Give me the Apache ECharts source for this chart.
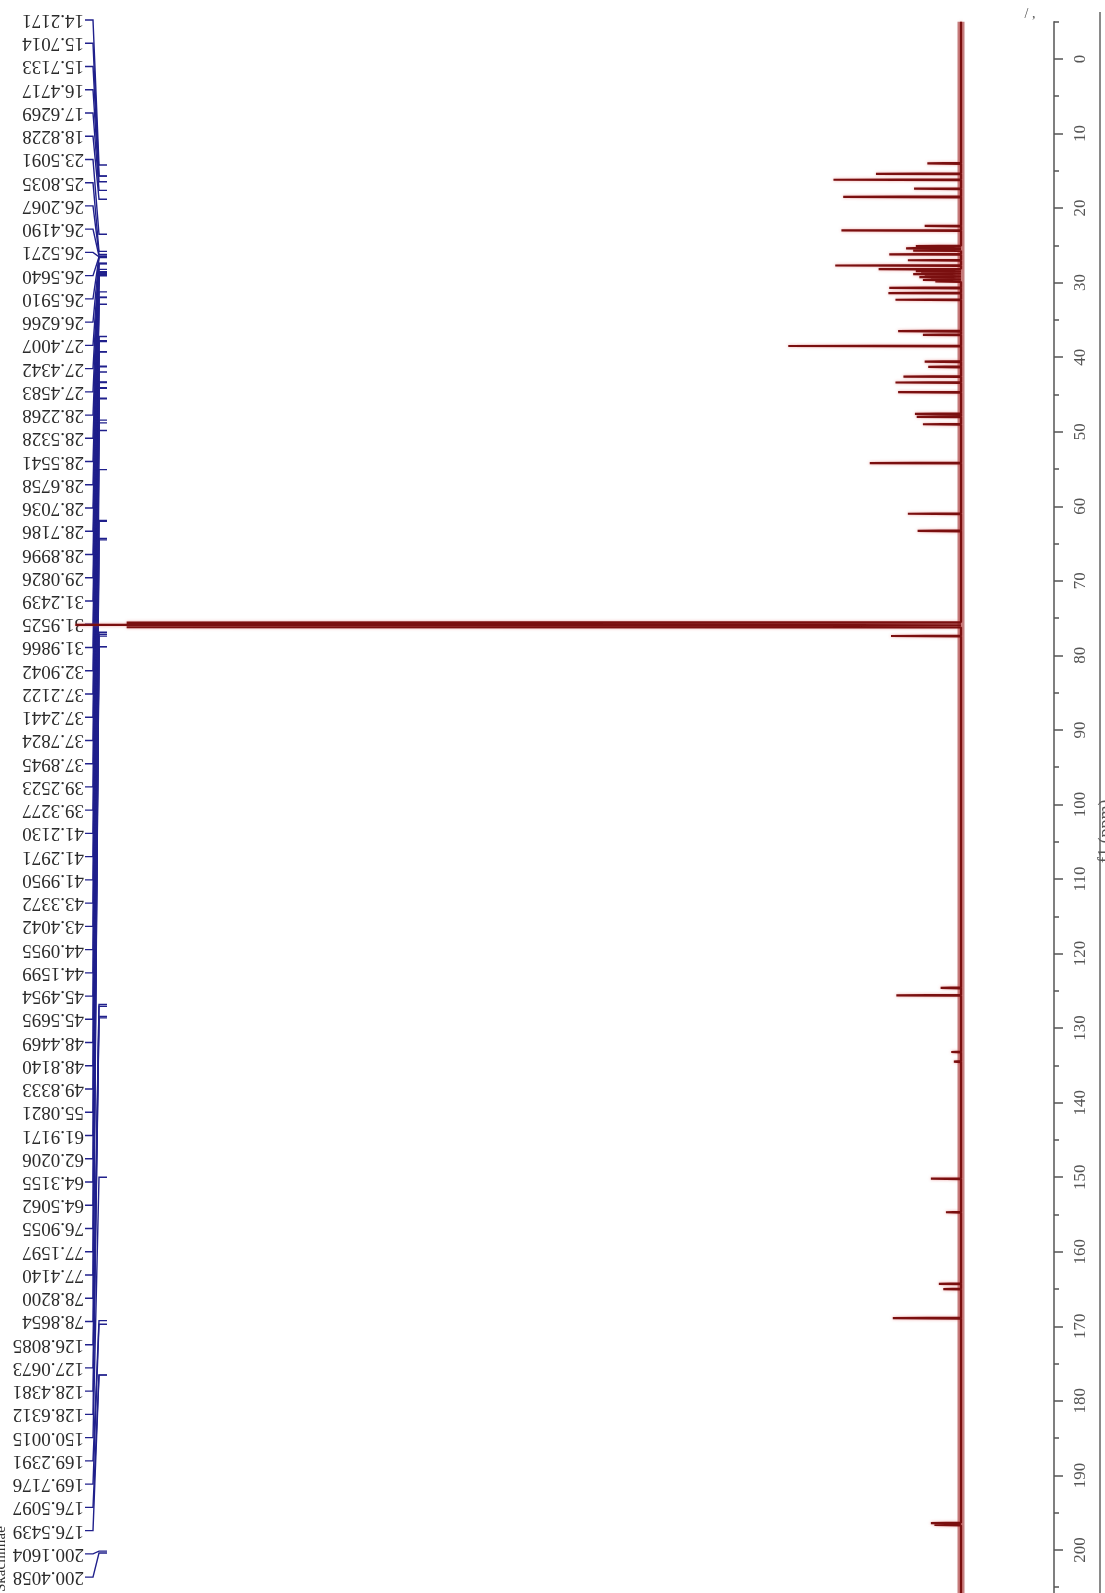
<!DOCTYPE html>
<html><head><meta charset="utf-8">
<script src="https://cdn.jsdelivr.net/npm/echarts@6/dist/echarts.min.js"></script>
<style>html,body{margin:0;padding:0;background:#fff;overflow:hidden;}#c{width:1105px;height:1593px;}</style>
</head><body><div id="c"></div>
<script>
// ---- data ----
const peakPpm = [14.0, 15.4, 16.2, 17.4, 18.5, 22.4, 23.0, 25.1, 25.4, 25.7, 26.2, 27.0, 27.7, 28.2,
  28.45, 28.65, 28.85, 29.05, 29.25, 29.45, 29.65, 29.85, 30.7, 31.4, 32.3, 36.5, 37.0, 38.5,
  40.6, 41.3, 42.6, 43.4, 44.7, 47.6, 48.0, 49.0, 54.2, 61.0, 63.3, 75.6, 75.9, 76.2, 77.4,
  124.6, 125.6, 133.2, 134.5, 150.2, 154.7, 164.3, 165.0, 168.9, 196.4, 196.65];
const peakHeight = [3.8, 9.6, 14.4, 5.3, 13.3, 4.1, 13.5, 5.1, 6.2, 5.4, 8.1, 6.0, 14.2, 9.3,
  5.1, 4.5, 5.4, 4.1, 4.7, 3.4, 4.3, 2.9, 8.1, 8.2, 7.4, 7.1, 4.3, 19.5,
  4.1, 3.7, 6.5, 7.4, 7.1, 5.2, 5.0, 4.3, 10.3, 6.0, 4.9, 94.2, 100, 94.2, 7.9,
  2.3, 7.3, 1.1, 0.8, 3.4, 1.7, 2.5, 2.0, 7.7, 3.4, 3.0];
const labelPpm = [14.2171, 15.7014, 15.7133, 16.4717, 17.6269, 18.8228, 23.5091, 25.8035, 26.2067,
  26.4190, 26.5271, 26.5640, 26.5910, 26.6266, 27.4007, 27.4342, 27.4583, 28.2268, 28.5328, 28.5541,
  28.6758, 28.7036, 28.7186, 28.8996, 29.0826, 31.2439, 31.9525, 31.9866, 32.9042, 37.2122, 37.2441,
  37.7824, 37.8945, 39.2523, 39.3277, 41.2130, 41.2971, 41.9950, 43.3372, 43.4042, 44.0955, 44.1599,
  45.4954, 45.5695, 48.4469, 48.8140, 49.8333, 55.0821, 61.9171, 62.0206, 64.3155, 64.5062, 76.9055,
  77.1597, 77.4140, 78.8200, 78.8654, 126.8085, 127.0673, 128.4381, 128.6312, 150.0015, 169.2391,
  169.7176, 176.5097, 176.5439, 200.1604, 200.4058];
const majorTicks = [0, 10, 20, 30, 40, 50, 60, 70, 80, 90, 100, 110, 120, 130, 140, 150, 160, 170, 180, 190, 200];
const minorTicks = [-5, 5, 15, 25, 35, 45, 55, 65, 75, 85, 95, 105, 115, 125, 135, 145, 155, 165, 175, 185, 195, 205];
const axisName = 'f1 (ppm)';
const watermark = 'Skachimae';

// ---- layout ----
const BASE_X = 961, AXIS_X = 1054, GRID_TOP = 21.7, GRID_H = 1573;
const Y_MIN = -5, Y_MAX = 206, X_MAX = 108.5;
const LABEL_TOP = 20, LABEL_STEP = 23.24, TX = 84;

const W = 0.06;
const order = peakPpm.map((p, i) => i).sort((a, b) => peakPpm[a] - peakPpm[b]);
const spec = [[0, Y_MIN]];
order.forEach(i => {
  const p = peakPpm[i];
  spec.push([0, p - W], [peakHeight[i], p], [0, p + W]);
});
spec.push([0, Y_MAX]);

const chart = echarts.init(document.getElementById('c'), null, {renderer: 'canvas'});
const serif = '"Liberation Serif", "DejaVu Serif", serif';
chart.setOption({
  animation: false,
  backgroundColor: '#ffffff',
  grid: {left: 0, right: 1105 - BASE_X, top: GRID_TOP, height: GRID_H, containLabel: false, outerBoundsMode: 'none'},
  xAxis: {type: 'value', min: 0, max: X_MAX, inverse: true, show: false},
  yAxis: [{
    type: 'value', min: Y_MIN, max: Y_MAX, inverse: true, position: 'right', offset: AXIS_X - BASE_X,
    axisLine: {show: true, onZero: false, lineStyle: {color: '#555', width: 1.5}},
    axisTick: {show: true, length: 9, customValues: majorTicks, lineStyle: {color: '#555', width: 1.5}},
    axisLabel: {customValues: majorTicks, rotate: 90, margin: 18, color: '#555', fontFamily: serif, fontSize: 17},
    splitLine: {show: false},
    name: axisName, nameLocation: 'middle', nameGap: 30, nameRotate: 90,
    nameTextStyle: {color: '#555', fontFamily: serif, fontSize: 18, padding: [0, 46, 0, 0]}
  }, {
    type: 'value', min: Y_MIN, max: Y_MAX, inverse: true, position: 'right', offset: AXIS_X - BASE_X,
    axisLine: {show: false, onZero: false},
    axisTick: {show: true, length: 5, customValues: minorTicks, lineStyle: {color: '#555', width: 1.5}},
    axisLabel: {show: false}, splitLine: {show: false}
  }],
  graphic: [
    {type: 'line', shape: {x1: 1100, y1: 12, x2: 1100, y2: 1593}, style: {stroke: '#8a8a8a', lineWidth: 2}},
    {type: 'text', x: 1030, y: 14, style: {text: '/ ,', font: '14px ' + serif, fill: '#555', align: 'center', verticalAlign: 'middle'}},
    {type: 'text', x: -6, y: 1592, rotation: Math.PI / 2, style: {text: watermark, font: '15px ' + serif, fill: '#333', align: 'left', verticalAlign: 'top'}}
  ],
  series: [
    {
      type: 'line', name: 'baseline', data: [[0, Y_MIN], [0, Y_MAX]], showSymbol: false, silent: true,
      lineStyle: {color: 'rgba(150,25,25,0.55)', width: 7}
    },
    {
      type: 'line', name: 'spectrum', data: spec, showSymbol: false, silent: true, clip: false,
      lineStyle: {color: '#7a0f0f', width: 2.2, shadowColor: 'rgba(220,70,70,0.5)', shadowBlur: 3}
    },
    {
      type: 'custom', name: 'peak labels', coordinateSystem: 'cartesian2d', clip: false, silent: true,
      data: labelPpm.map(v => [0, v]),
      renderItem(params, api) {
        const i = params.dataIndex;
        const ly = LABEL_TOP + i * LABEL_STEP;
        const py = api.coord([0, api.value(1)])[1];
        return {type: 'group', children: [
          {type: 'text', x: TX, y: ly, rotation: Math.PI,
           style: {text: labelPpm[i].toFixed(4), font: '19px ' + serif, fill: '#2b2b2b', align: 'left', verticalAlign: 'middle'}},
          {type: 'polyline', shape: {points: [[TX + 1, ly], [TX + 9, ly], [TX + 15, py], [TX + 23, py]]},
           style: {stroke: '#20208c', lineWidth: 1.4, fill: null}}
        ]};
      }
    }
  ]
});
</script>
</body></html>
